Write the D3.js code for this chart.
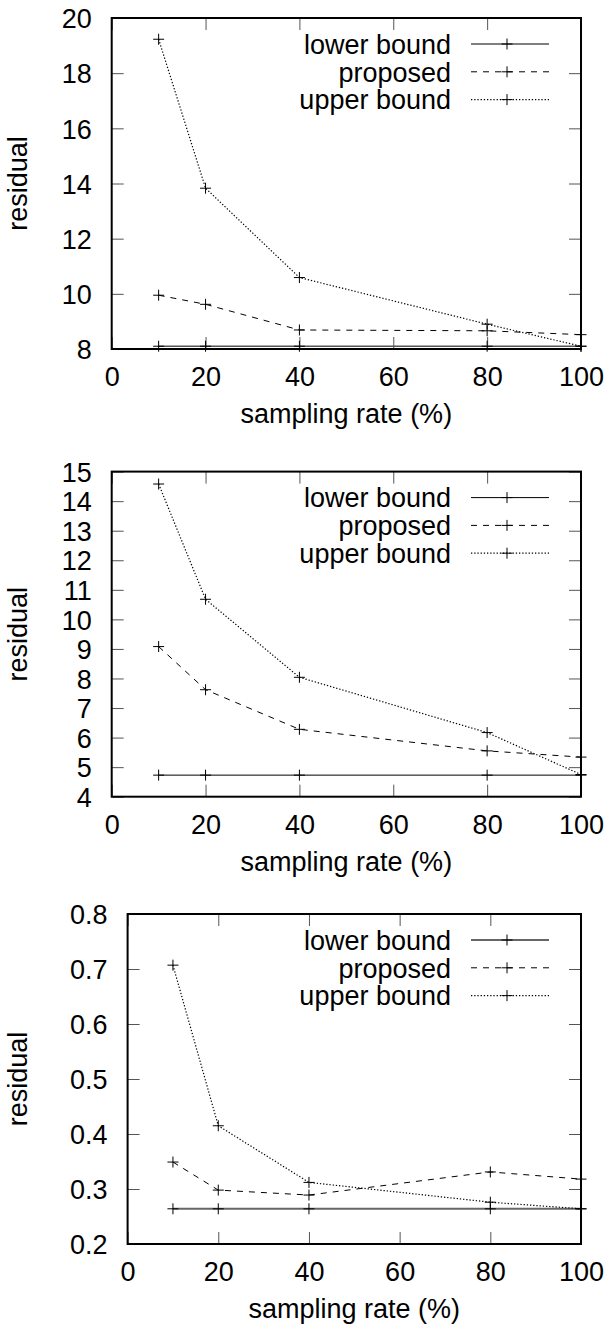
<!DOCTYPE html>
<html>
<head>
<meta charset="utf-8">
<script src="https://cdn.jsdelivr.net/npm/d3@7"></script>
<style>
  html, body { margin: 0; padding: 0; background: #fff; }
  svg { display: block; font-family: "Liberation Sans", Arial, sans-serif; }
</style>
</head>
<body>
<svg id="chart" width="608" height="1331"></svg>
<script>
// ---------- data ----------
const xValues = [10, 20, 40, 80, 100];
const seriesNames = ["lower bound", "proposed", "upper bound"];
const xTicks = [0, 20, 40, 60, 80, 100];
const xLabel = "sampling rate (%)";
const yLabel = "residual";

const p1Lower    = [8.1, 8.1, 8.1, 8.1, 8.1];
const p1Proposed = [9.95, 9.62, 8.69, 8.66, 8.52];
const p1Upper    = [19.23, 13.83, 10.59, 8.9, 8.1];
const p1YTicks   = [8, 10, 12, 14, 16, 18, 20];

const p2Lower    = [4.73, 4.73, 4.73, 4.73, 4.73];
const p2Proposed = [9.08, 7.62, 6.28, 5.55, 5.34];
const p2Upper    = [14.58, 10.68, 8.04, 6.17, 4.75];
const p2YTicks   = [4, 5, 6, 7, 8, 9, 10, 11, 12, 13, 14, 15];

const p3Lower    = [0.264, 0.264, 0.264, 0.264, 0.264];
const p3Proposed = [0.349, 0.298, 0.289, 0.331, 0.318];
const p3Upper    = [0.707, 0.415, 0.312, 0.276, 0.264];
const p3YTicks   = [0.2, 0.3, 0.4, 0.5, 0.6, 0.7, 0.8];

// ---------- layout ----------
const FONT = 27;
const panels = [
  { series: [p1Lower, p1Proposed, p1Upper], yTicks: p1YTicks, fmt: d3.format("d"),
    left: 111.7, right: 581, top: 18, bottom: 349, lowerColor: "#555", lowerWidth: 1.6, legendLowerColor: "#000", legendLowerWidth: 1 },
  { series: [p2Lower, p2Proposed, p2Upper], yTicks: p2YTicks, fmt: d3.format("d"),
    left: 111.7, right: 581, top: 471.6, bottom: 796.7, lowerColor: "#000", lowerWidth: 1, legendLowerColor: "#000", legendLowerWidth: 1 },
  { series: [p3Lower, p3Proposed, p3Upper], yTicks: p3YTicks, fmt: d3.format(".1f"),
    left: 127.6, right: 581, top: 914, bottom: 1244, lowerColor: "#666", lowerWidth: 2, legendLowerColor: "#666", legendLowerWidth: 2 }
];
const dashes = [null, "6,6", "1.3,1.9"];

const svg = d3.select("#chart");

panels.forEach(p => {
  const yExt = d3.extent(p.yTicks);
  const x = d3.scaleLinear().domain([0, 100]).range([p.left, p.right]);
  const y = d3.scaleLinear().domain(yExt).range([p.bottom, p.top]);
  const g = svg.append("g");
  const W = p.right - p.left, H = p.bottom - p.top;
  const TS = 12;

  // axes with inward ticks
  const ax = [
    g.append("g").attr("transform", `translate(0,${p.bottom})`)
      .call(d3.axisBottom(x).tickValues(xTicks).tickSizeInner(-TS).tickSizeOuter(0).tickPadding(10).tickFormat(d3.format("d"))),
    g.append("g").attr("transform", `translate(0,${p.top})`)
      .call(d3.axisTop(x).tickValues(xTicks).tickSizeInner(-TS).tickSizeOuter(0).tickFormat("")),
    g.append("g").attr("transform", `translate(${p.left},0)`)
      .call(d3.axisLeft(y).tickValues(p.yTicks).tickSizeInner(-TS).tickSizeOuter(0).tickPadding(20).tickFormat(p.fmt)),
    g.append("g").attr("transform", `translate(${p.right},0)`)
      .call(d3.axisRight(y).tickValues(p.yTicks).tickSizeInner(-TS).tickSizeOuter(0).tickFormat(""))
  ];
  ax.forEach(a => {
    a.select(".domain").remove();
    a.selectAll(".tick line").attr("stroke", "#555").attr("stroke-width", 1);
    a.selectAll(".tick text").attr("fill", "#000").style("font-size", FONT + "px")
      .style("font-family", '"Liberation Sans", Arial, sans-serif');
  });
  ax[0].selectAll(".tick text").attr("dy", null).attr("y", 37);
  ax[2].selectAll(".tick text").attr("dy", "0.36em");

  // data lines
  const line = d3.line().x((d, i) => x(xValues[i])).y(d => y(d));
  p.series.forEach((s, k) => {
    g.append("path").datum(s)
      .attr("d", line)
      .attr("fill", "none")
      .attr("stroke", k === 0 ? p.lowerColor : "#000")
      .attr("stroke-width", k === 0 ? p.lowerWidth : (k === 2 ? 1.2 : 1))
      .attr("stroke-dasharray", dashes[k]);
    g.append("g").selectAll("path").data(s).join("path")
      .attr("d", (d, i) => {
        const cx = x(xValues[i]), cy = y(d), r = 5.5;
        return `M${cx - r},${cy}H${cx + r}M${cx},${cy - r}V${cy + r}`;
      })
      .attr("stroke", "#000").attr("stroke-width", 1).attr("fill", "none");
  });

  // border
  g.append("rect").attr("x", p.left).attr("y", p.top).attr("width", W).attr("height", H)
    .attr("fill", "none").attr("stroke", "#000").attr("stroke-width", 2);

  // legend
  const lg = g.append("g");
  seriesNames.forEach((name, k) => {
    const ly = p.top + 26 + k * 27.8;
    lg.append("text").attr("x", 451).attr("y", ly).attr("dy", "0.36em")
      .attr("text-anchor", "end").style("font-size", FONT + "px").text(name);
    lg.append("line").attr("x1", 471).attr("x2", 549).attr("y1", ly).attr("y2", ly)
      .attr("stroke", k === 0 ? p.legendLowerColor : "#000")
      .attr("stroke-width", k === 0 ? p.legendLowerWidth : (k === 2 ? 1.2 : 1))
      .attr("stroke-dasharray", dashes[k]);
    lg.append("path").attr("d", `M${507 - 5.5},${ly}H${507 + 5.5}M507,${ly - 5.5}V${ly + 5.5}`)
      .attr("stroke", "#000").attr("stroke-width", 1);
  });

  // axis titles
  g.append("text").attr("x", (p.left + p.right) / 2).attr("y", p.bottom + 74)
    .attr("text-anchor", "middle").style("font-size", FONT + "px").text(xLabel);
  g.append("text").attr("transform", `translate(27,${(p.top + p.bottom) / 2}) rotate(-90)`)
    .attr("text-anchor", "middle").style("font-size", FONT + "px").text(yLabel);
});
</script>
</body>
</html>
